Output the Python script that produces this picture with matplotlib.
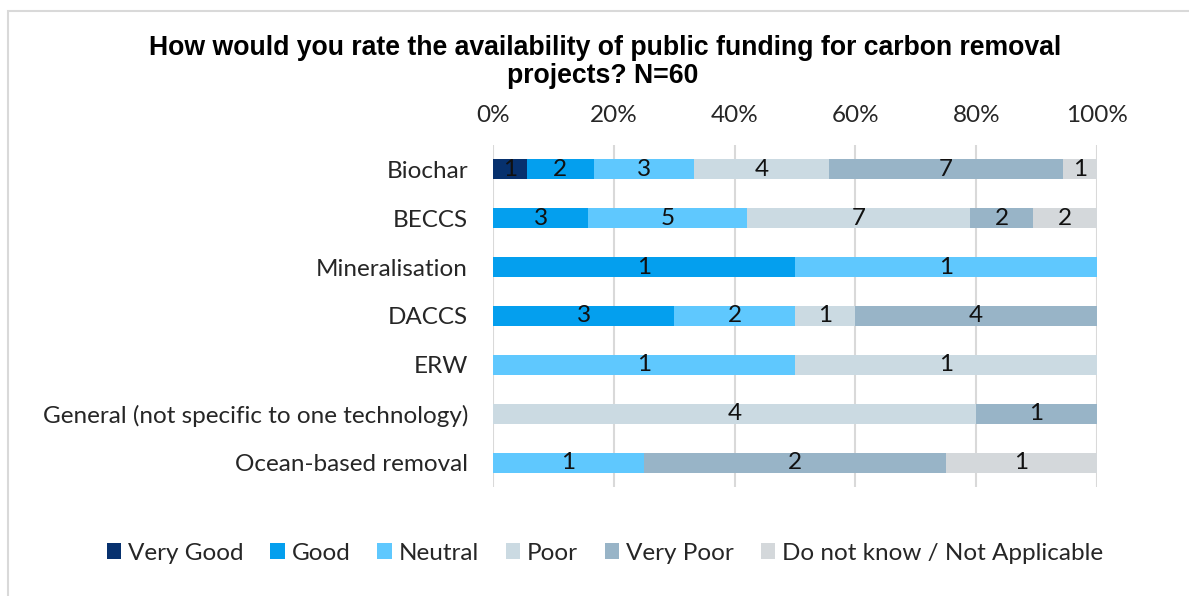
import matplotlib
matplotlib.use("Agg")
import matplotlib.pyplot as plt
from matplotlib.patches import Rectangle
import numpy as np

categories = ["Biochar", "BECCS", "Mineralisation", "DACCS", "ERW",
              "General (not specific to one technology)", "Ocean-based removal"]
series_names = ["Very Good", "Good", "Neutral", "Poor", "Very Poor",
                "Do not know / Not Applicable"]
very_good = [1, 0, 0, 0, 0, 0, 0]
good = [2, 3, 1, 3, 0, 0, 0]
neutral = [3, 5, 1, 2, 1, 0, 1]
poor = [4, 7, 0, 1, 1, 4, 0]
very_poor = [7, 2, 0, 4, 0, 1, 2]
do_not_know = [1, 2, 0, 0, 0, 0, 1]
colors = ["#07316E", "#049FEE", "#5FC8FE", "#CBDAE2", "#98B4C7", "#D4D8DB"]
tick_values = [0, 0.2, 0.4, 0.6, 0.8, 1.0]
tick_labels = ["0%", "20%", "40%", "60%", "80%", "100%"]

FONT = "Lato"
FW = "normal"
FS = 17.5
TXT = "#262626"
W, H = 1189, 596
fig = plt.figure(figsize=(W / 100, H / 100), dpi=100)

# outer chart frame
fig.patches.append(Rectangle((7.5 / W, -0.1), 1.2, (H - 10.5) / H + 0.1,
                             transform=fig.transFigure, fill=False,
                             edgecolor="#D9D9D9", linewidth=1.5))

ax = fig.add_axes([493 / W, 1 - 487 / H, (1097 - 493) / W, (487 - 145) / H])

data = np.array([very_good, good, neutral, poor, very_poor, do_not_know], dtype=float)
totals = data.sum(axis=0)
shares = data / totals
y = np.arange(len(categories))
left = np.zeros(len(categories))
for i, name in enumerate(series_names):
    ax.barh(y, shares[i], left=left, height=0.41, color=colors[i],
            label=name, zorder=2)
    for j in range(len(categories)):
        if data[i, j] > 0:
            ax.text(left[j] + shares[i, j] / 2, y[j], f"{int(data[i, j])}",
                    ha="center", va="center", fontsize=FS, family=FONT,
                    fontweight=FW, color="#111111", zorder=3)
    left += shares[i]

ax.set_xlim(0, 1)
ax.set_ylim(len(categories) - 0.5, -0.5)
ax.set_xticks(tick_values)
ax.set_xticklabels(tick_labels, family=FONT, fontsize=FS, fontweight=FW,
                   color=TXT)
ax.xaxis.tick_top()
ax.tick_params(axis="x", length=0, pad=14)
ax.set_yticks(y)
ax.set_yticklabels(categories, family=FONT, fontsize=FS, fontweight=FW,
                   color=TXT)
ax.tick_params(axis="y", length=0, pad=18)
ax.grid(axis="x", color="#D9D9D9", linewidth=1.5, zorder=0)
ax.set_axisbelow(True)
for s in ax.spines.values():
    s.set_visible(False)

fig.text(605 / W, 1 - 48 / H,
         "How would you rate the availability of public funding for carbon removal",
         ha="center", va="center", fontsize=19.2, fontweight="bold",
         family="Liberation Sans", color="#000000")
fig.text(603 / W, 1 - 76 / H, "projects? N=60",
         ha="center", va="center", fontsize=19.2, fontweight="bold",
         family="Liberation Sans", color="#000000")

handles, labels = ax.get_legend_handles_labels()
fig.legend(handles, labels, loc="center", bbox_to_anchor=(605 / W, 1 - 553 / H),
           ncol=6, frameon=False,
           prop={"family": FONT, "size": FS, "weight": FW},
           handlelength=0.6, handleheight=0.6, handletextpad=0.28,
           columnspacing=1.1, labelcolor=TXT)

fig.savefig("out.png", dpi=100)
